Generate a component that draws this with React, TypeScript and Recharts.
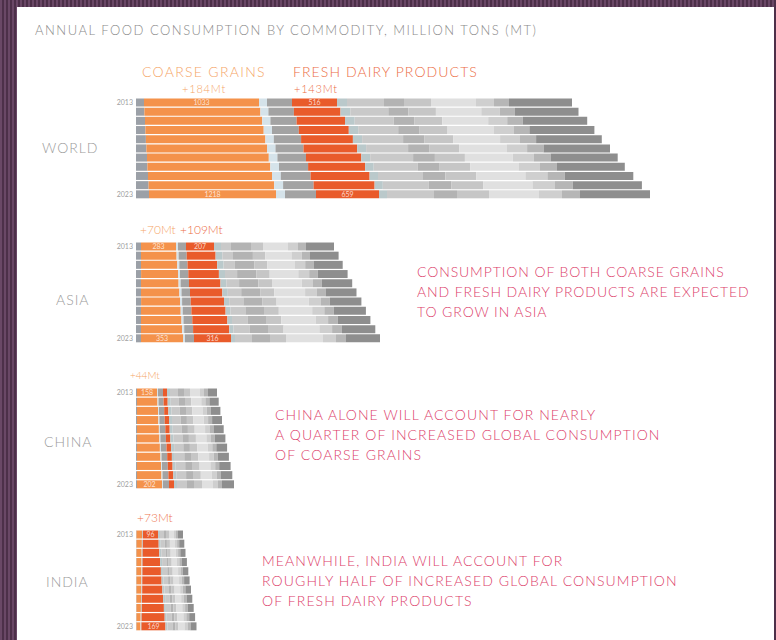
import React from 'react';
import { BarChart, Bar, XAxis, YAxis, LabelList } from 'recharts';

const YEARS = ['2013', '2014', '2015', '2016', '2017', '2018', '2019', '2020', '2021', '2022', '2023'];

// series order, left to right in every bar
const SERIES = ['g1', 'coarseGrains', 'g2', 'g3', 'freshDairy', 'g4', 'g5', 'g6', 'g7', 'g8', 'g9', 'g10', 'g11'];

// values in Mt
const WORLD: Record<string, number[]> = {
  g1: [80, 84, 90, 94, 99, 104, 110, 114, 120, 126, 130],
  coarseGrains: [1150, 1160, 1172, 1183, 1195, 1206, 1218, 1229, 1240, 1256, 1270],
  g2: [80, 80, 82, 83, 84, 85, 86, 87, 88, 89, 90],
  g3: [250, 255, 262, 268, 273, 280, 286, 291, 298, 305, 310],
  freshDairy: [450, 466, 484, 500, 518, 536, 553, 570, 590, 610, 630],
  g4: [100, 98, 97, 94, 92, 90, 89, 86, 84, 82, 80],
  g5: [370, 380, 389, 400, 410, 420, 429, 440, 450, 460, 470],
  g6: [200, 202, 206, 209, 211, 215, 218, 220, 224, 227, 230],
  g7: [270, 274, 280, 285, 289, 295, 300, 304, 310, 316, 320],
  g8: [450, 454, 460, 464, 470, 475, 479, 485, 490, 494, 500],
  g9: [180, 184, 190, 195, 199, 205, 210, 214, 220, 225, 230],
  g10: [150, 152, 156, 159, 161, 165, 168, 170, 174, 177, 180],
  g11: [630, 636, 644, 650, 657, 664, 671, 678, 685, 692, 700],
};

const ASIA: Record<string, number[]> = {
  g1: [50, 50, 50, 51, 50, 50, 51, 50, 50, 50, 50],
  coarseGrains: [350, 356, 363, 369, 376, 384, 390, 397, 405, 412, 420],
  g2: [20, 20, 20, 20, 20, 21, 20, 20, 20, 20, 20],
  g3: [80, 81, 82, 83, 84, 85, 86, 87, 88, 89, 90],
  freshDairy: [280, 289, 297, 306, 315, 323, 333, 342, 351, 361, 370],
  g4: [70, 67, 64, 61, 58, 55, 52, 49, 46, 43, 40],
  g5: [100, 107, 113, 121, 128, 134, 142, 149, 155, 163, 170],
  g6: [200, 199, 196, 194, 193, 190, 188, 186, 185, 182, 180],
  g7: [120, 124, 128, 132, 136, 140, 144, 148, 152, 156, 160],
  g8: [250, 262, 273, 286, 298, 309, 322, 334, 345, 358, 370],
  g9: [100, 103, 106, 109, 112, 115, 118, 121, 124, 127, 130],
  g10: [80, 82, 84, 86, 88, 90, 92, 94, 96, 98, 100],
  g11: [280, 286, 291, 298, 304, 309, 316, 322, 327, 334, 340],
};

const CHINA: Record<string, number[]> = {
  g1: [10, 10, 10, 10, 10, 10, 10, 10, 10, 10, 10],
  coarseGrains: [200, 205, 210, 214, 219, 224, 229, 235, 240, 245, 250],
  g2: [10, 10, 10, 10, 10, 10, 10, 10, 10, 10, 10],
  g3: [50, 51, 52, 53, 54, 55, 56, 57, 58, 59, 60],
  freshDairy: [40, 41, 42, 43, 44, 45, 46, 47, 48, 49, 50],
  g4: [30, 30, 30, 30, 30, 30, 30, 30, 30, 30, 30],
  g5: [80, 82, 84, 86, 88, 90, 92, 94, 96, 98, 100],
  g6: [60, 61, 62, 63, 64, 65, 66, 67, 68, 69, 70],
  g7: [60, 62, 64, 66, 68, 70, 72, 74, 76, 78, 80],
  g8: [100, 101, 102, 103, 104, 105, 106, 107, 108, 109, 110],
  g9: [40, 41, 42, 43, 44, 45, 46, 47, 48, 49, 50],
  g10: [40, 40, 40, 40, 40, 40, 40, 40, 40, 40, 40],
  g11: [90, 93, 96, 99, 102, 105, 108, 111, 114, 117, 120],
};

const INDIA: Record<string, number[]> = {
  g1: [5, 5, 5, 5, 5, 5, 5, 5, 5, 5, 5],
  coarseGrains: [55, 54, 52, 51, 50, 48, 47, 45, 44, 42, 40],
  g2: [5, 5, 5, 5, 5, 5, 5, 5, 5, 5, 5],
  g3: [5, 5, 5, 5, 5, 5, 5, 5, 5, 5, 5],
  freshDairy: [150, 158, 166, 175, 184, 193, 202, 211, 220, 230, 240],
  g4: [20, 20, 20, 20, 20, 20, 20, 20, 20, 20, 20],
  g5: [40, 41, 42, 43, 44, 45, 46, 47, 48, 49, 50],
  g6: [20, 21, 22, 23, 24, 25, 26, 27, 28, 29, 30],
  g7: [30, 30, 30, 30, 30, 30, 30, 30, 30, 30, 30],
  g8: [50, 51, 52, 53, 54, 55, 56, 57, 58, 59, 60],
  g9: [20, 21, 22, 23, 24, 25, 26, 27, 28, 29, 30],
  g10: [20, 21, 22, 23, 24, 25, 26, 27, 28, 29, 30],
  g11: [50, 51, 52, 53, 54, 55, 56, 57, 58, 59, 60],
};

// labels printed in the first and last bar
const WORLD_CG_LABELS = ['1033', '1218'];
const WORLD_FD_LABELS = ['516', '659'];
const ASIA_CG_LABELS = ['283', '353'];
const ASIA_FD_LABELS = ['207', '316'];
const CHINA_CG_LABELS = ['158', '202'];
const INDIA_FD_LABELS = ['96', '169'];

const COLORS: Record<string, string> = {
  g1: '#9ba0a7',
  coarseGrains: '#f4924b',
  g2: '#d5e3ea',
  g3: '#a3a3a3',
  freshDairy: '#e95b2b',
  g4: '#bac9cb',
  g5: '#c9c9c9',
  g6: '#b3b3b3',
  g7: '#c6c6c6',
  g8: '#e0e0e0',
  g9: '#cfcfcf',
  g10: '#b6b6b6',
  g11: '#8e8e8e',
};

const FONT = 'Lato, "Open Sans", sans-serif';
const PINK = '#dc406a';

const buildRows = (src: Record<string, number[]>) =>
  YEARS.map((year, i) => {
    const row: Record<string, string | number> = { year };
    SERIES.forEach((k) => (row[k] = src[k][i]));
    return row;
  });

const endLabel = (texts: string[]) => (props: any) => {
  const { x, y, width, height, index } = props;
  const t = index === 0 ? texts[0] : index === YEARS.length - 1 ? texts[1] : null;
  if (!t) return null;
  return (
    <text
      x={Number(x) + Number(width) / 2}
      y={Number(y) + Number(height) / 2 + 2.5}
      textAnchor="middle"
      fontSize={7}
      fontFamily={FONT}
      fill="#fff"
      fillOpacity={0.75}
    >
      {t}
    </text>
  );
};

const Panel = ({ src, top, cg, fd }: { src: Record<string, number[]>; top: number; cg?: string[]; fd?: string[] }) => (
  <div style={{ position: 'absolute', left: 94, top }}>
    <BarChart width={582} height={101} data={buildRows(src)} layout="vertical" margin={{ top: 0, right: 0, bottom: 0, left: 0 }} barCategoryGap={0.5}>
      <XAxis type="number" hide domain={[0, 5400]} />
      <YAxis
        type="category"
        dataKey="year"
        width={42}
        axisLine={false}
        tickLine={false}
        tickSize={0}
        tickMargin={3}
        interval={0}
        tick={{ fontSize: 7, fill: '#a0a0a0', fontFamily: FONT }}
        tickFormatter={(v: string) => (v === '2013' || v === '2023' ? v : '')}
      />
      {SERIES.map((k) => (
        <Bar key={k} dataKey={k} stackId="a" fill={COLORS[k]} isAnimationActive={false}>
          {k === 'coarseGrains' && cg && <LabelList dataKey={k} content={endLabel(cg)} />}
          {k === 'freshDairy' && fd && <LabelList dataKey={k} content={endLabel(fd)} />}
        </Bar>
      ))}
    </BarChart>
  </div>
);

const Txt = ({ x, y, size, color, center, children, ls = 0.8, lh }: any) => (
  <div
    style={{
      position: 'absolute',
      left: x,
      top: y,
      transform: center ? 'translate(-50%, -50%)' : 'translateY(-50%)',
      whiteSpace: 'nowrap',
      fontFamily: FONT,
      fontWeight: 300,
      fontSize: size,
      letterSpacing: ls,
      lineHeight: lh ? `${lh}px` : `${size + 2}px`,
      color,
    }}
  >
    {children}
  </div>
);

export default function App() {
  return (
    <div
      style={{
        position: 'absolute',
        left: 0,
        top: 0,
        width: 776,
        height: 640,
        overflow: 'hidden',
        background: 'repeating-linear-gradient(90deg, #6a4866 0px, #6a4866 2px, #4d3049 2px, #4d3049 4px)',
      }}
    >
      <style>{'body{margin:0}'}</style>
      <div style={{ position: 'absolute', left: 17, top: 7, width: 757, height: 633, background: '#fff' }} />

      <Txt x={35} y={30} size={13} color="#8a8a8a" ls={1.5}>
        ANNUAL FOOD CONSUMPTION BY COMMODITY, MILLION TONS (MT)
      </Txt>

      <Txt x={142} y={72} size={14} color="#f5a567" ls={1.3}>COARSE GRAINS</Txt>
      <Txt x={204} y={88} size={11} color="#f5a567" center>+184Mt</Txt>
      <Txt x={293} y={72} size={14} color="#ec6d45" ls={1.1}>FRESH DAIRY PRODUCTS</Txt>
      <Txt x={294} y={88} size={11} color="#ec6d45">+143Mt</Txt>

      <Txt x={42} y={148} size={14} color="#9a9a9a" ls={1}>WORLD</Txt>
      <Panel src={WORLD} top={98} cg={WORLD_CG_LABELS} fd={WORLD_FD_LABELS} />

      <Txt x={140} y={230} size={12} color="#f5a567" ls={0}>+70Mt</Txt>
      <Txt x={180} y={230} size={12} color="#ec6d45" ls={0}>+109Mt</Txt>
      <Txt x={56} y={300} size={14} color="#9a9a9a" ls={1}>ASIA</Txt>
      <Panel src={ASIA} top={242} cg={ASIA_CG_LABELS} fd={ASIA_FD_LABELS} />
      <Txt x={417} y={292} size={14} color={PINK} lh={20} ls={0.9}>
        CONSUMPTION OF BOTH COARSE GRAINS
        <br />
        AND FRESH DAIRY PRODUCTS ARE EXPECTED
        <br />
        TO GROW IN ASIA
      </Txt>

      <Txt x={130} y={375} size={10} color="#f5a567" ls={0}>+44Mt</Txt>
      <Txt x={44} y={442} size={14} color="#9a9a9a" ls={1}>CHINA</Txt>
      <Panel src={CHINA} top={388} cg={CHINA_CG_LABELS} />
      <Txt x={275} y={435} size={14} color={PINK} lh={20} ls={1.1}>
        CHINA ALONE WILL ACCOUNT FOR NEARLY
        <br />
        A QUARTER OF INCREASED GLOBAL CONSUMPTION
        <br />
        OF COARSE GRAINS
      </Txt>

      <Txt x={137} y={518} size={12} color="#ee7650" ls={0}>+73Mt</Txt>
      <Txt x={46} y={582} size={14} color="#9a9a9a" ls={1}>INDIA</Txt>
      <Panel src={INDIA} top={530} fd={INDIA_FD_LABELS} />
      <Txt x={262} y={581} size={14} color={PINK} lh={20} ls={1.1}>
        MEANWHILE, INDIA WILL ACCOUNT FOR
        <br />
        ROUGHLY HALF OF INCREASED GLOBAL CONSUMPTION
        <br />
        OF FRESH DAIRY PRODUCTS
      </Txt>
    </div>
  );
}
